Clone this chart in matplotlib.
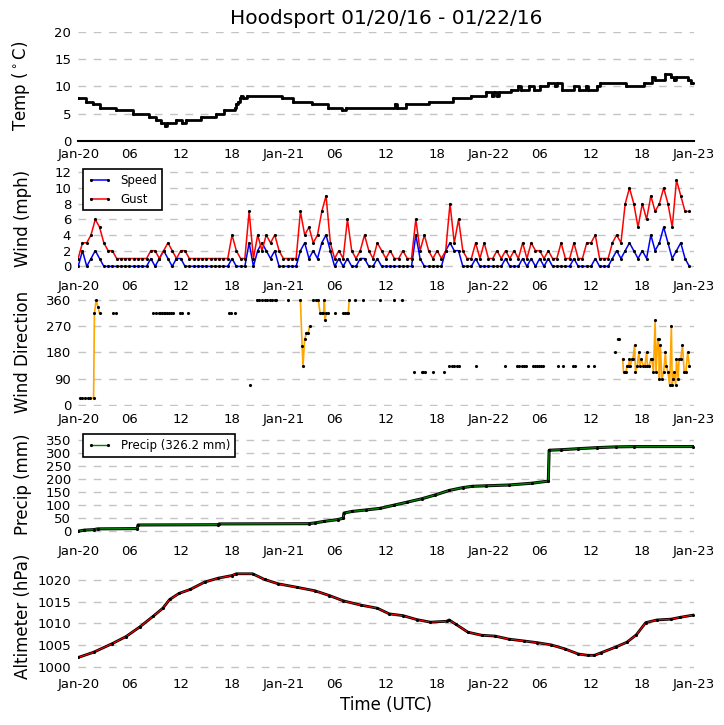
import numpy as np
import matplotlib
matplotlib.use('Agg')
import matplotlib.pyplot as plt

nan = np.nan

# hours since 2016-01-20 00 UTC
xtick_hrs = list(range(0, 73, 6))
xtick_labels = ['Jan-20', '06', '12', '18', 'Jan-21', '06', '12', '18',
                'Jan-22', '06', '12', '18', 'Jan-23']

# temperature (deg C), change points of a step series
temp_hrs = [0, 0.9, 1.7, 2.6, 4.4, 6.4, 8.3, 9.1, 9.7, 10.1, 10.4, 11.4, 12.2, 12.6,
            14.4, 16.1, 17.1, 18.3, 18.5, 18.7, 18.9, 19.1, 19.3, 19.8, 23.9, 25.1,
            27.4, 29.2, 30.9, 31.3, 37.1, 37.3, 38.3, 41.0, 43.9, 46.0, 47.7, 48.4,
            48.6, 49.0, 49.2, 50.6, 51.5, 51.8, 52.8, 53.3, 54.0, 55.0, 55.8, 56.0,
            56.6, 58.0, 58.6, 59.4, 59.7, 60.7, 61.1, 64.1, 66.2, 67.1, 67.5, 68.7,
            69.3, 69.7, 69.9, 71.4, 71.7, 71.9]
temp_c = [7.8, 7.2, 6.7, 6.1, 5.6, 5.0, 4.4, 3.9, 3.3, 2.8, 3.3, 3.9, 3.3, 3.9,
          4.4, 5.0, 5.6, 6.1, 6.7, 7.2, 7.8, 8.3, 7.8, 8.3, 7.8, 7.2,
          6.7, 6.1, 5.6, 6.1, 6.7, 6.1, 6.7, 7.2, 7.8, 8.3, 8.9, 8.3,
          8.9, 8.3, 8.9, 9.4, 10.0, 9.4, 10.0, 9.4, 10.0, 10.6, 10.0, 10.6,
          9.4, 10.0, 9.4, 10.0, 9.4, 10.0, 10.6, 10.0, 10.6, 11.7, 11.1, 12.2,
          11.7, 11.1, 11.7, 11.1, 10.6, 10.6]

# wind (mph), half-hourly
wind_hrs = np.arange(0, 72, 0.5)
gust = [1, 3, 3, 4, 6, 5, 3, 2, 2, 1,
        1, 1, 1, 1, 1, 1, 1, 2, 2, 1,
        2, 3, 2, 1, 2, 2, 1, 1, 1, 1,
        1, 1, 1, 1, 1, 1, 4, 2, 1, 1,
        7, 1, 4, 2, 4, 3, 4, 2, 1, 1,
        1, 1, 7, 4, 5, 3, 4, 7, 9, 3,
        1, 2, 1, 6, 2, 1, 2, 4, 2, 1,
        3, 2, 1, 2, 1, 1, 2, 1, 1, 6,
        2, 4, 2, 1, 2, 1, 2, 8, 3, 6,
        2, 1, 1, 3, 1, 3, 1, 1, 2, 1,
        2, 1, 2, 1, 3, 1, 3, 2, 2, 1,
        2, 1, 1, 3, 1, 1, 3, 1, 1, 3,
        3, 4, 1, 1, 1, 3, 4, 3, 8, 10,
        8, 5, 8, 6, 9, 7, 8, 10, 8, 5,
        11, 9, 7, 7]
speed = [0, 2, 0, 1, 2, 1, 0, 0, 0, 0,
         0, 0, 0, 0, 0, 0, 0, 1, 0, 1,
         2, 1, 0, 1, 1, 0, 0, 0, 0, 0,
         0, 0, 0, 0, 0, 0, 1, 0, 0, 0,
         3, 0, 2, 3, 2, 1, 2, 0, 0, 0,
         0, 0, 2, 3, 1, 2, 1, 3, 4, 2,
         0, 1, 0, 1, 0, 0, 1, 1, 0, 0,
         1, 0, 0, 0, 0, 0, 0, 0, 0, 4,
         1, 0, 0, 0, 0, 0, 2, 3, 2, 2,
         0, 0, 0, 1, 0, 0, 0, 0, 0, 0,
         1, 0, 0, 0, 1, 0, 1, 0, 1, 0,
         1, 0, 0, 0, 0, 0, 1, 0, 0, 0,
         0, 1, 0, 0, 0, 1, 2, 1, 2, 3,
         2, 1, 2, 1, 4, 2, 3, 5, 3, 1,
         2, 3, 1, 0]

# wind direction (deg): connected runs (nan = break) and isolated obs
dir_line_hrs = [0.2, 0.5, 0.8, 1.1, 1.4, 1.8, 1.9, 2.1, 2.3, 2.5, 2.6,
                20.9, 21.2, 21.5, 21.8, 22.1, 22.4, 22.7, 23.0, 23.2, 23.3,
                26.0, 26.2, 26.3, 26.5, 26.7, 26.9, 27.1, 27.2,
                27.5, 27.8, 28.1, 28.3, 28.5, 28.7, 28.8, 28.9, 29.0, 29.2, 29.3,
                31.0, 31.2, 31.4, 31.6, 31.7, 31.8,
                63.1, 63.3, 63.4,
                63.7, 63.8, 64.0, 64.1, 64.2, 64.4, 64.5, 64.6, 64.8, 64.9,
                65.1, 65.2, 65.4, 65.6, 65.7, 65.9, 66.1, 66.3, 66.5, 66.6,
                66.8, 67.0, 67.1, 67.3, 67.5, 67.6, 67.8, 67.9, 68.0, 68.1,
                68.3, 68.5, 68.7, 68.8, 69.0, 69.2, 69.4, 69.5, 69.6, 69.7,
                69.9, 70.0, 70.2, 70.3, 70.5, 70.7, 70.9, 71.1, 71.3, 71.5]
dir_line_deg = [22, 22, 22, 22, 22, 22, 315, 360, 337, 315, nan,
                360, 360, 360, 360, 360, 360, 360, 360, 360, nan,
                360, 202, 135, 225, 248, 248, 270, nan,
                360, 360, 360, 315, 315, 315, 360, 293, 315, 315, nan,
                315, 315, 315, 315, 360, nan,
                225, 225, nan,
                158, 113, 113, 113, 135, 135, 158, 135, 158, 158,
                205, 113, 135, 180, 135, 158, 135, 135, 180, 135,
                135, 158, 158, 113, 290, 113, 225, 225, 90, 205,
                90, 113, 180, 135, 113, 68, 270, 68, 90, 113,
                68, 158, 90, 158, 158, 205, 113, 113, 180, 135]
dir_dot_hrs = [4.1, 4.4, 8.8, 9.1, 9.4, 9.6, 9.8, 10.0, 10.2, 10.4, 10.6, 10.9, 11.1,
               11.9, 12.2, 12.9, 17.6, 17.9, 18.4, 20.1, 24.6, 30.0, 32.4, 33.3,
               35.3, 37.0, 37.9, 39.3, 40.2, 40.4, 40.6, 41.5, 42.8, 43.4, 43.7,
               44.0, 44.3, 44.6, 46.5, 49.9, 51.3, 51.6, 51.9, 52.1, 52.4, 53.2,
               53.5, 53.7, 53.9, 54.1, 54.4, 56.1, 56.7, 57.9, 58.1, 59.7, 60.4,
               62.8]
dir_dot_deg = [315, 315, 315, 315, 315, 315, 315, 315, 315, 315, 315, 315, 315,
               315, 315, 315, 315, 315, 315, 68, 360, 315, 360, 360,
               360, 360, 360, 113, 113, 113, 113, 113, 113, 135, 135,
               135, 135, 135, 135, 135, 135, 135, 135, 135, 135, 135,
               135, 135, 135, 135, 135, 135, 135, 135, 135, 135, 135,
               180]

# accumulated precip (mm)
precip_hrs = [0, 0.7, 1.8, 2.3, 6.9, 7.0, 16.3, 16.5, 27.0, 27.7, 28.8, 30.4, 31.0,
              31.1, 32.0, 33.7, 35.3, 36.9, 38.5, 40.2, 41.8, 43.4, 45.0, 46.1,
              47.7, 50.4, 53.1, 55.0, 55.1, 56.5, 58.5, 60.7, 62.9, 65.0, 71.9]
precip_mm = [0, 4, 6, 9, 10, 24, 25, 28, 29, 32, 38, 45, 50,
             70, 76, 82, 88, 100, 112, 125, 140, 157, 168, 173,
             175, 178, 185, 193, 312, 314, 318, 322, 325, 326, 326.2]

# altimeter (hPa)
alt_hrs = [0, 1.8, 4.0, 5.6, 7.2, 8.8, 9.9, 10.7, 11.8, 13.1, 14.8, 16.4, 18.0,
           18.5, 20.4, 21.8, 23.4, 25.6, 27.7, 29.4, 31.0, 33.1, 35.0, 36.4, 38.0,
           39.6, 41.2, 43.1, 43.4, 44.2, 45.6, 47.2, 48.8, 50.4, 52.1, 53.7, 55.3,
           56.9, 58.5, 59.6, 60.4, 61.2, 62.9, 64.2, 65.3, 66.4, 67.7, 69.4, 70.4,
           71.9]
alt_hpa = [1002.2, 1003.4, 1005.4, 1007.0, 1009.2, 1011.7, 1013.5, 1015.5, 1016.9,
           1017.8, 1019.5, 1020.4, 1021.0, 1021.4, 1021.4, 1020.1, 1019.1, 1018.3,
           1017.5, 1016.4, 1015.2, 1014.2, 1013.5, 1012.2, 1011.8, 1010.9, 1010.3,
           1010.5, 1010.8, 1009.8, 1008.0, 1007.3, 1007.1, 1006.4, 1006.0, 1005.6,
           1005.1, 1004.2, 1003.0, 1002.7, 1002.7, 1003.3, 1004.6, 1005.7, 1007.4,
           1010.2, 1010.8, 1011.0, 1011.4, 1011.9]

mk = dict(marker='.', ms=2.5, mfc='k', mec='k')

fig, axs = plt.subplots(5, 1, figsize=(7.24, 7.25), dpi=100)
fig.subplots_adjust(left=0.108, right=0.958, top=0.956, bottom=0.0745, hspace=0.216)

ax = axs[0]
ax.plot(temp_hrs, temp_c, color='k', lw=2, drawstyle='steps-post', **mk)
ax.set_ylim(0, 20)
ax.set_yticks([0, 5, 10, 15, 20])
ax.set_ylabel(r'Temp ($^\circ$C)')
ax.set_title('Hoodsport 01/20/16 - 01/22/16', fontsize=14.5)

ax = axs[1]
ax.plot(wind_hrs, speed, color='blue', lw=1.1, label='Speed', **mk)
ax.plot(wind_hrs, gust, color='red', lw=1.1, label='Gust', **mk)
ax.set_ylim(-0.9, 13)
ax.set_yticks(range(0, 13, 2))
ax.set_ylabel('Wind (mph)')
leg = ax.legend(loc='upper left', numpoints=2, fancybox=False, framealpha=1,
                edgecolor='k', fontsize=8.5, borderaxespad=0.4)
leg.get_frame().set_linewidth(1.2)

ax = axs[2]
ax.plot(dir_line_hrs, dir_line_deg, color='orange', lw=1.2, **mk)
ax.plot(dir_dot_hrs, dir_dot_deg, ls='none', **mk)
ax.set_ylim(-4, 371)
ax.set_yticks([0, 90, 180, 270, 360])
ax.set_ylabel('Wind Direction')

ax = axs[3]
ax.plot(precip_hrs, precip_mm, color='k', lw=2.2)
ax.plot(precip_hrs, precip_mm, color='green', lw=1.0, label='Precip (326.2 mm)', **mk)
ax.set_ylim(-28, 392)
ax.set_yticks(range(0, 351, 50))
ax.set_ylabel('Precip (mm)')
leg = ax.legend(loc='upper left', numpoints=2, fancybox=False, framealpha=1,
                edgecolor='k', fontsize=8.5, borderaxespad=0.4)
leg.get_frame().set_linewidth(1.2)

ax = axs[4]
ax.plot(alt_hrs, alt_hpa, color='k', lw=2.0)
ax.plot(alt_hrs, alt_hpa, color='red', lw=0.8, **mk)
ax.set_ylim(999.1, 1024.1)
ax.set_yticks(range(1000, 1021, 5))
ax.set_ylabel('Altimeter (hPa)')
ax.set_xlabel('Time (UTC)', fontsize=12)

for ax in axs:
    ax.set_xlim(0, 72)
    ax.set_xticks(xtick_hrs)
    ax.set_xticklabels(xtick_labels)
    ax.tick_params(length=0, labelsize=9.5, pad=5)
    ax.yaxis.grid(True, color='#c4c4c4', lw=1, dashes=(5.5, 5.5))
    ax.set_axisbelow(True)
    ax.yaxis.label.set_size(12)
    for s in ax.spines.values():
        s.set_visible(False)
axs[0].spines['bottom'].set_visible(True)
axs[0].spines['bottom'].set_linewidth(1.5)

fig.align_ylabels(axs)
fig.savefig('out.png', dpi=100)
